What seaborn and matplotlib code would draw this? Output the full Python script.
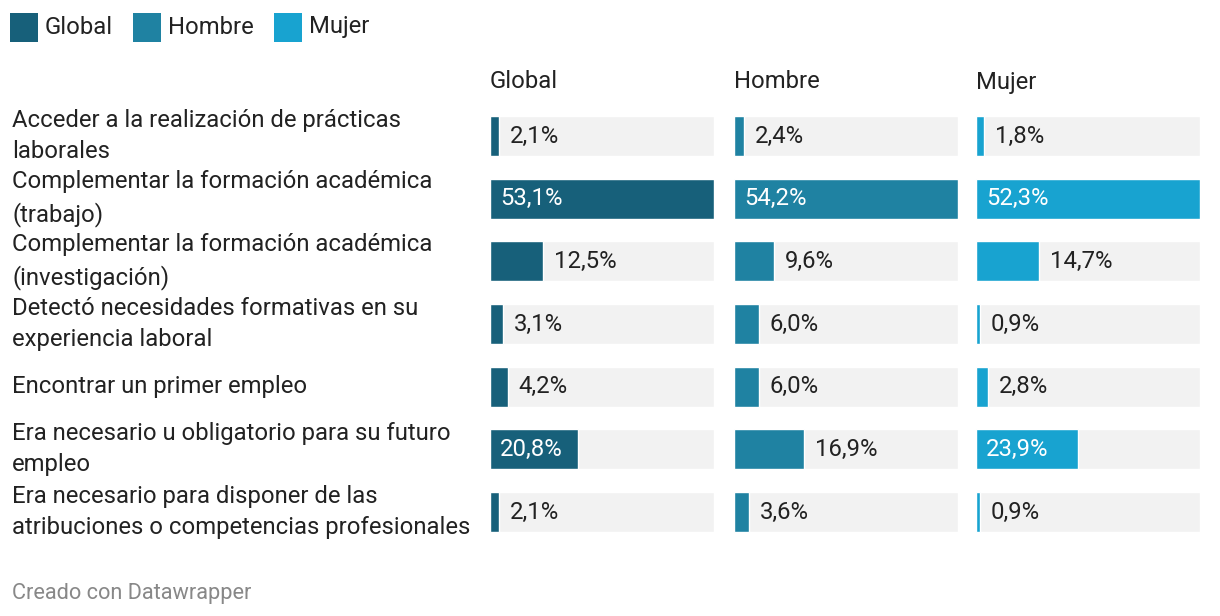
import matplotlib
matplotlib.use("Agg")
import matplotlib.pyplot as plt
import matplotlib.transforms as mtransforms
from matplotlib.patches import Rectangle
import seaborn as sns
import pandas as pd

categories = [
    "Acceder a la realización de prácticas\nlaborales",
    "Complementar la formación académica\n(trabajo)",
    "Complementar la formación académica\n(investigación)",
    "Detectó necesidades formativas en su\nexperiencia laboral",
    "Encontrar un primer empleo",
    "Era necesario u obligatorio para su futuro\nempleo",
    "Era necesario para disponer de las\natribuciones o competencias profesionales",
]
global_vals = [2.1, 53.1, 12.5, 3.1, 4.2, 20.8, 2.1]
hombre_vals = [2.4, 54.2, 9.6, 6.0, 6.0, 16.9, 3.6]
mujer_vals = [1.8, 52.3, 14.7, 0.9, 2.8, 23.9, 0.9]
series_names = ["Global", "Hombre", "Mujer"]
series_colors = ["#17607a", "#1f82a2", "#18a3d0"]

sns.set_theme(style="white")
plt.rcParams["font.family"] = ["Roboto", "DejaVu Sans"]

W, H = 1220, 616
fig = plt.figure(figsize=(W / 100, H / 100), dpi=100)
fig.patch.set_facecolor("white")

TXT = "#222222"
FS = 17.2

row_top, row_bot = 136, 512
n = len(categories)
unit = (row_bot - row_top) / (n - 1)
ax_top = row_top - unit / 2
ax_h = unit * n
panel_x = [490, 734, 976]
panel_w = 224

axes = []
for name, vals, color, px in zip(series_names, [global_vals, hombre_vals, mujer_vals], series_colors, panel_x):
    ax = fig.add_axes([px / W, 1 - (ax_top + ax_h) / H, panel_w / W, ax_h / H])
    vmax = max(vals)
    df = pd.DataFrame({"cat": categories, "val": vals, "bg": [vmax] * n})
    sns.barplot(data=df, x="bg", y="cat", orient="h", color="#f2f2f2",
                width=40 / unit, ax=ax, saturation=1, zorder=1)
    sns.barplot(data=df, x="val", y="cat", orient="h", color=color,
                width=40 / unit, ax=ax, saturation=1, zorder=2)
    ax.set_xlim(0, vmax)
    ax.set_ylim(n - 0.5, -0.5)
    ax.axis("off")
    for i, v in enumerate(vals):
        lab = f"{v:.1f}%".replace(".", ",")
        if v / vmax > 0.35:
            ax.annotate(lab, (0, i), xytext=(7.2, 0), textcoords="offset points",
                        ha="left", va="center", color="white", fontsize=FS)
        else:
            ax.annotate(lab, (v, i), xytext=(8, 0), textcoords="offset points",
                        ha="left", va="center", color=TXT, fontsize=FS)
    fig.text(px / W, 1 - 82 / H, name, ha="left", va="center", fontsize=FS, color=TXT)
    axes.append(ax)

# row labels
trans = mtransforms.blended_transform_factory(fig.transFigure, axes[0].transData)
for i, c in enumerate(categories):
    fig.text(12 / W, i, c, transform=trans, ha="left", va="center",
             fontsize=FS, color=TXT, linespacing=1.45)

# legend
lx = 10
for name, color in zip(series_names, series_colors):
    fig.patches.append(Rectangle((lx / W, 1 - 42 / H), 28 / W, 29 / H,
                                 transform=fig.transFigure, facecolor=color,
                                 edgecolor="none", figure=fig))
    t = fig.text((lx + 35) / W, 1 - 27 / H, name, ha="left", va="center",
                 fontsize=FS, color=TXT)
    fig.canvas.draw()
    bb = t.get_window_extent()
    lx = bb.x1 + 20

fig.text(12 / W, 1 - 593 / H, "Creado con Datawrapper", ha="left", va="center",
         fontsize=15.7, color="#888888")

fig.savefig("out.png", dpi=100, facecolor="white")
